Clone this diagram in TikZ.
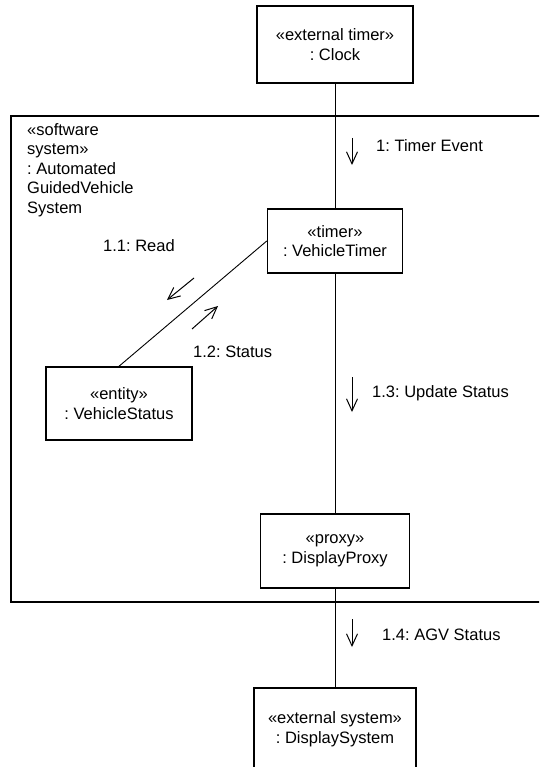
\documentclass[tikz,border=0pt]{standalone}
\usepackage{fontspec}
\setmainfont{Liberation Sans}
\usepackage{tikz}
\usetikzlibrary{calc,arrows.meta}
\frenchspacing

\begin{document}
\begin{tikzpicture}[x=1pt,y=-1pt,
  objBox/.style={draw,line width=1.5pt,minimum width=#1,align=center,inner sep=0pt},
  objBox/.default=150pt,
  link/.style={line width=0.9pt},
  msgArrow/.style={line width=1pt,-{Straight Barb[length=12pt,width=11pt,line width=1pt]}},
  msgLabel/.style={anchor=west,inner sep=0pt},
  font=\fontsize{16.5}{19.5}\selectfont]
\useasboundingbox (0,0) rectangle (539,767);
\clip (0,0) rectangle (539,767);
% software system boundary (open to the right)
\draw[line width=2pt] (11,116) rectangle (580,602);
\node[anchor=north west,align=left,inner sep=0pt] (sysLabel) at (27,123) {«software\\system»\\: Automated\\GuidedVehicle\\System};
% objects
\node[objBox=156pt,minimum height=77pt] (clock) at (335,44.5) {«external timer»\\: Clock};
\node[objBox=135pt,minimum height=64pt] (vehicleTimer) at (335,241) {«timer»\\: VehicleTimer};
\node[objBox=146pt,minimum height=73pt] (vehicleStatus) at (119,403.5) {«entity»\\: VehicleStatus};
\node[objBox=149pt,minimum height=74pt] (displayProxy) at (335,551) {«proxy»\\: DisplayProxy};
\node[objBox=162pt,anchor=north,inner ysep=24pt] (displaySystem) at (335,687) {«external system»\\: DisplaySystem};
% links
\draw[link] (clock.south) -- (vehicleTimer.north);
\draw[link] (vehicleTimer.west) -- (vehicleStatus.north);
\draw[link] (vehicleTimer.south) -- (displayProxy.north);
\draw[link] (displayProxy.south) -- (displaySystem.north);
% messages
\draw[msgArrow] (352,138) -- ++(0,27);
\node[msgLabel] (msgTimer) at (376,146) {1: Timer Event};
\draw[msgArrow] (194,278) -- (167,300);
\node[msgLabel] (msgRead) at (103,246) {1.1: Read};
\draw[msgArrow] (192,329) -- (218,306);
\node[msgLabel] (msgStatus) at (193,352) {1.2: Status};
\draw[msgArrow] (352,377) -- ++(0,35);
\node[msgLabel] (msgUpdate) at (372,393) {1.3: Update Status};
\draw[msgArrow] (352,619) -- ++(0,28);
\node[msgLabel] (msgAgv) at (382,635) {1.4: AGV Status};
\end{tikzpicture}
\end{document}
